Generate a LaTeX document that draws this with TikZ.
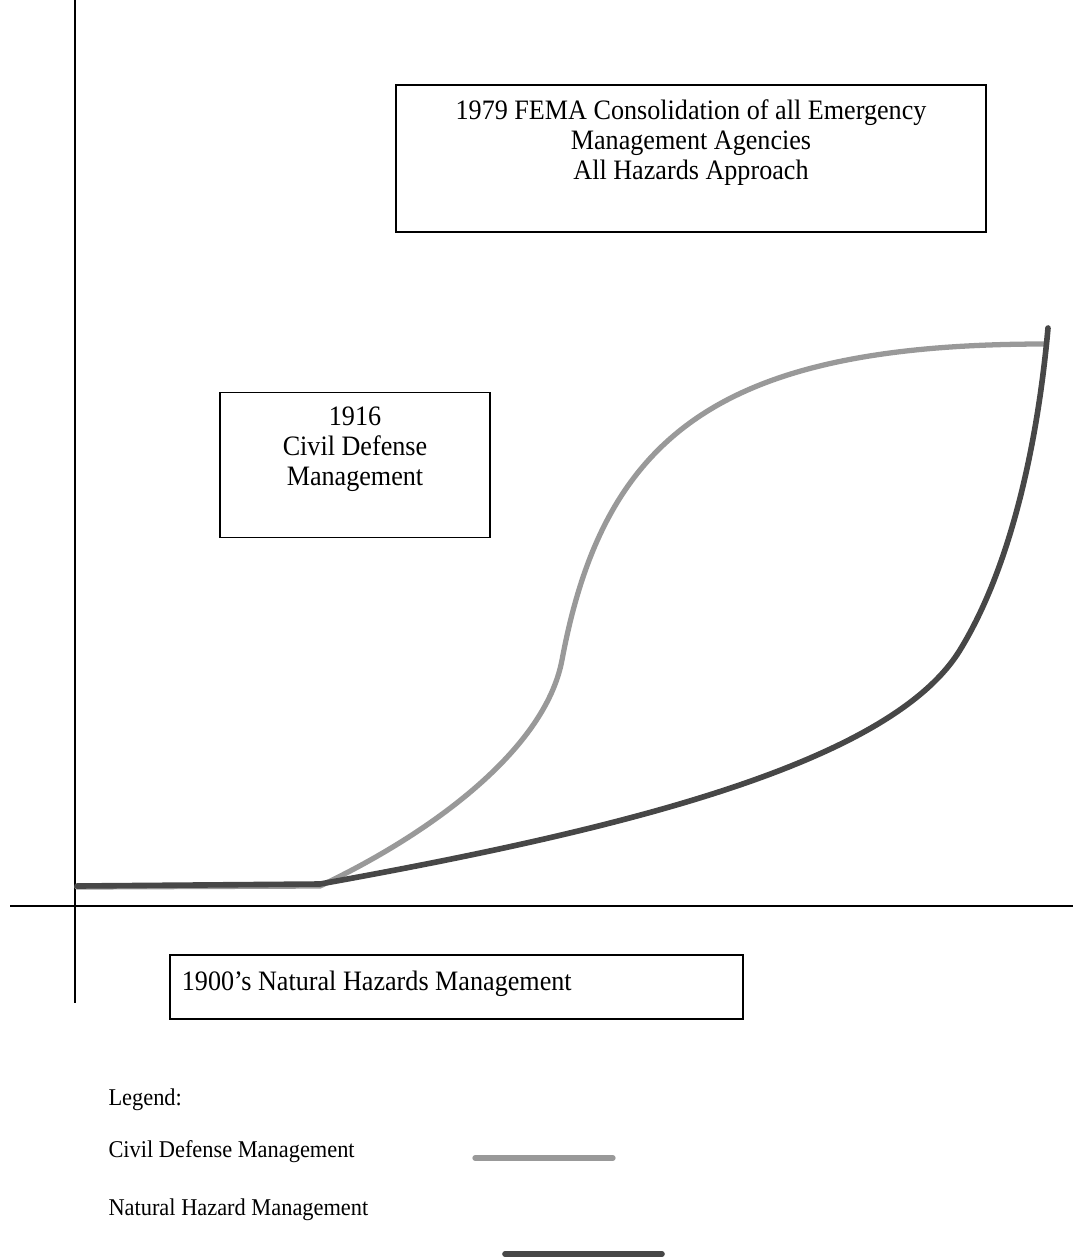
\documentclass[tikz,border=0pt]{standalone}
\usepackage{fontspec}
\setmainfont[FakeStretch=0.93]{Liberation Serif}
\usetikzlibrary{positioning}

\begin{document}
\begin{tikzpicture}[
  x=0.02cm, y=-0.02cm, semithick,
  font=\fontsize{16}{17}\selectfont
]
  \tikzstyle{every node}=[inner sep=0pt]
  \tikzstyle{era}=[draw=black, line width=0.8pt]
  \tikzstyle{axis}=[draw=black, line width=0.8pt]
  \tikzstyle{cdline}=[draw=black!40, line width=3pt, line cap=round]
  \tikzstyle{nhline}=[draw=black!72, line width=3.2pt, line cap=round]
  \tikzstyle{legendtext}=[anchor=west, font=\fontsize{13.7}{16}\selectfont]

  \useasboundingbox (0,0) rectangle (1073,1259);

  % Axes
  \draw[axis] (75,0) -- (75,1003);
  \draw[axis] (10,906) -- (1073,906);

  % Boxes (laid out roughly top->bottom)
  \node[era, minimum width=11.8cm, minimum height=2.94cm] (B1979) at (691,158.5) {};
  \node[align=center, below=0.3cm of B1979.north] (T1979)
    {1979 FEMA Consolidation of all Emergency\\Management Agencies\\All Hazards Approach};

  \node[era, minimum width=5.4cm, minimum height=2.9cm] (B1916) at (355,465) {};
  \node[align=center, below=0.3cm of B1916.north] (T1916)
    {1916\\Civil Defense\\Management};

  \node[era, minimum width=11.46cm, minimum height=1.28cm] (B1900) at (456.5,987) {};
  \node[anchor=west, right=0.24cm of B1900.west, yshift=2pt] (T1900)
    {1900's Natural Hazards Management};

  % Curves
  \draw[cdline] (77,887) -- (320,886)
    .. controls (430,834) and (545,750) .. (562,660)
    .. controls (604,435) and (720,344) .. (1045,344);

  \draw[nhline] (77,886) -- (320,884)
    .. controls (620,830) and (890,764) .. (960,650)
    .. controls (1012,565) and (1038,440) .. (1048,328);

  % Legend
  \node[legendtext] (LG)  at (108,1100) {Legend:};
  \node[legendtext] (LCD) at (108,1152) {Civil Defense Management};
  \node[legendtext] (LNH) at (108,1210) {Natural Hazard Management};

  \draw[cdline] (475,1158) -- (613,1158);
  \draw[nhline] (505,1254) -- (662,1254);
\end{tikzpicture}
\end{document}
